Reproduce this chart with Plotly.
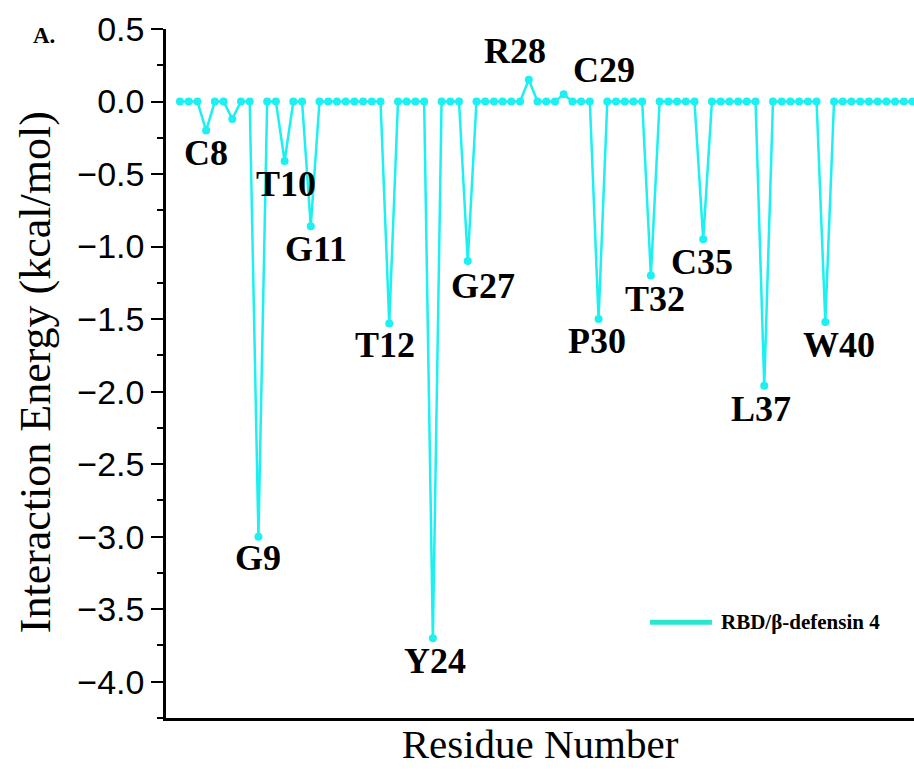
import plotly.graph_objects as go

# Per-residue interaction energy (kcal/mol), residue index 1..86
residue_index = list(range(1, 87))
energy = [
    0, 0, 0, -0.20, 0, 0, -0.12, 0, 0, -3.00,
    0, 0, -0.41, 0, 0, -0.86, 0, 0, 0, 0,
    0, 0, 0, 0, -1.53, 0, 0, 0, 0, -3.70,
    0, 0, 0, -1.10, 0, 0, 0, 0, 0, 0,
    0.15, 0, 0, 0, 0.05, 0, 0, 0, -1.50, 0,
    0, 0, 0, 0, -1.20, 0, 0, 0, 0, 0,
    -0.95, 0, 0, 0, 0, 0, 0, -1.96, 0, 0,
    0, 0, 0, 0, -1.52, 0, 0, 0, 0, 0,
    0, 0, 0, 0, 0, 0,
]

# Labelled hot-spot residues and their label offsets (px)
hot_index = [4, 10, 13, 16, 25, 30, 34, 41, 45, 49, 55, 61, 68, 75]
hot_names = ["C8", "G9", "T10", "G11", "T12", "Y24", "G27", "R28", "C29",
             "P30", "T32", "C35", "L37", "W40"]
hot_dx = [0, 0, 1, 5, -4, 2, 15, -14, 40, -2, 4, -1, -3, 14]
hot_dy = [-22, -21, -23, -23, -22, -23, -25, 29, 24, -22, -23, -23, -23, -23]

series_name = "RBD/β-defensin 4"
y_title = "Interaction Energy (kcal/mol)"
x_title = "Residue Number"
y_ticks = [0.5, 0.0, -0.5, -1.0, -1.5, -2.0, -2.5, -3.0, -3.5, -4.0]

LINE = "#1CF0F0"
SERIF = "Liberation Serif"
SANS = "Liberation Sans"

fig = go.Figure()
fig.add_trace(go.Scatter(
    x=residue_index, y=energy, mode="lines+markers",
    line=dict(color=LINE, width=2.5),
    marker=dict(color=LINE, size=8),
    name=series_name, showlegend=False,
))

for i, name, dx, dy in zip(hot_index, hot_names, hot_dx, hot_dy):
    fig.add_annotation(
        x=i, y=energy[i - 1], text=f"<b>{name}</b>", showarrow=False,
        xshift=dx, yshift=dy, xanchor="center", yanchor="middle",
        font=dict(family=SERIF, size=36, color="black"),
    )

# panel tag
fig.add_annotation(
    x=-0.163, y=0.991, xref="paper", yref="paper", text="<b>A.</b>", showarrow=False,
    xanchor="center", yanchor="middle",
    font=dict(family=SERIF, size=23, color="black"),
)

# y-axis title, set a little below the axis centre
fig.add_annotation(
    x=-0.175, y=0.502, xref="paper", yref="paper", text=y_title, showarrow=False,
    textangle=-90, xanchor="center", yanchor="middle",
    font=dict(family=SERIF, size=44, color="black"),
)

# legend key
fig.add_shape(type="line", xref="x", yref="y", x0=54.9, x1=62.0, y0=-3.59, y1=-3.59,
              line=dict(color="#2BE6CF", width=5))
fig.add_annotation(
    x=62.8, y=-3.59, xref="x", yref="y", text=f"<b>{series_name}</b>",
    showarrow=False, xanchor="left", yanchor="middle",
    font=dict(family=SERIF, size=21, color="black"),
)

fig.update_layout(
    width=914, height=774,
    margin=dict(l=166, r=0, t=29, b=56),
    paper_bgcolor="white", plot_bgcolor="white",
    xaxis=dict(
        range=[-0.6, 85.17], showline=True, linecolor="black", linewidth=2.5,
        showticklabels=False, ticks="", showgrid=False, zeroline=False,
        title=dict(text=x_title, font=dict(family=SERIF, size=41, color="black"),
                   standoff=10),
    ),
    yaxis=dict(
        range=[-4.25, 0.5], showline=True, linecolor="black", linewidth=2.5,
        tickvals=y_ticks, ticktext=[f"{v:.1f}".replace("-", "−") for v in y_ticks],
        ticks="outside", ticklen=12, tickwidth=2, tickcolor="black",
        minor=dict(dtick=0.25, tick0=0, ticks="outside", ticklen=6, tickwidth=2,
                   tickcolor="black", showgrid=False),
        tickfont=dict(family=SANS, size=34, color="black"),
        showgrid=False, zeroline=False,
    ),
)

fig.write_html("out.html")
